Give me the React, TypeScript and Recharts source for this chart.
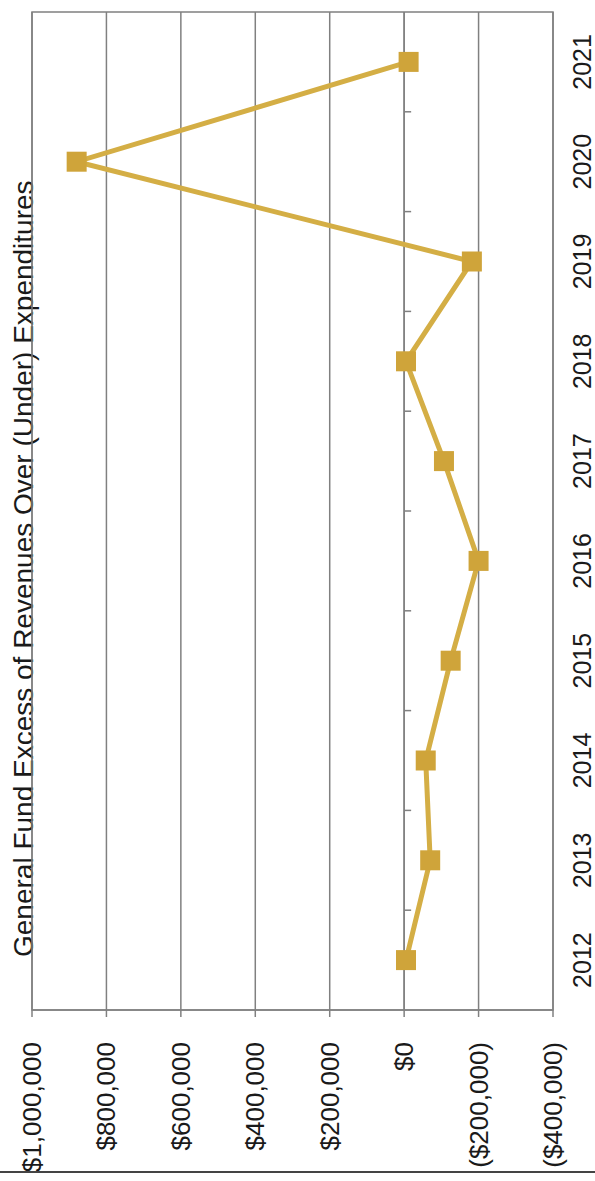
import {
  LineChart, Line, XAxis, YAxis, CartesianGrid, ReferenceArea, ReferenceLine,
} from 'recharts'

const years = ['2012', '2013', '2014', '2015', '2016', '2017', '2018', '2019', '2020', '2021']
const excess = [-5000, -70000, -58000, -125000, -200000, -107000, -5000, -182000, 880000, -12000]
const valueTicks = [-400000, -200000, 0, 200000, 400000, 600000, 800000, 1000000]
const title = 'General Fund Excess of Revenues Over (Under) Expenditures'

const data = years.map((year, i) => ({ year, value: excess[i] }))

const FONT = '"Liberation Sans", Arial, sans-serif'
const GRID = '#808080'
const GOLD = '#D4AE45'

function money(v: number) {
  const s = '$' + Math.abs(v).toLocaleString('en-US')
  return v < 0 ? `(${s})` : s
}

// whole chart is turned a quarter turn, so every label is drawn rotated
function ValueTick({ x, y, payload }: any) {
  return (
    <text
      transform={`translate(${x + 9},${y + 23}) rotate(-90)`}
      textAnchor="end"
      fontSize={26}
      fontFamily={FONT}
      fill="#1a1a1a"
    >
      {money(payload.value)}
    </text>
  )
}

function YearTick({ x, y, payload }: any) {
  return (
    <text
      transform={`translate(${x + 38},${y}) rotate(-90)`}
      textAnchor="middle"
      fontSize={25}
      fontFamily={FONT}
      fill="#1a1a1a"
    >
      {payload.value}
    </text>
  )
}

// category axis sits on $0, with small marks between the years
function ZeroAxis({ x1, y1, x2, y2 }: any) {
  const top = Math.min(y1, y2)
  const step = (Math.max(y1, y2) - top) / years.length
  return (
    <g>
      <line x1={x1} y1={y1} x2={x2} y2={y2} stroke={GRID} strokeWidth={1.5} />
      {years.slice(1).map((_, i) => (
        <line key={i} x1={x1} x2={x1 + 7} y1={top + (i + 1) * step} y2={top + (i + 1) * step}
          stroke={GRID} strokeWidth={1.5} />
      ))}
    </g>
  )
}

function SquareDot({ cx, cy }: any) {
  return <rect x={cx - 10} y={cy - 10} width={20} height={20} fill="#CFA43A" />
}

export default function App() {
  return (
    <div style={{ position: 'absolute', left: 0, top: 0, width: 595, height: 1181, background: '#fff' }}>
      <LineChart
        layout="vertical"
        width={595}
        height={1181}
        data={data}
        margin={{ top: 12, right: 0, bottom: 0, left: 32 }}
      >
        <CartesianGrid horizontal={false} stroke={GRID} strokeWidth={1.5} />
        <ReferenceArea x1={-400000} x2={1000000} fill="none" stroke={GRID} strokeWidth={1.5} />
        <XAxis
          type="number"
          reversed
          domain={[-400000, 1000000]}
          ticks={valueTicks}
          interval={0}
          height={171}
          tickSize={7}
          axisLine={{ stroke: GRID, strokeWidth: 1.5 }}
          tickLine={{ stroke: GRID, strokeWidth: 1.5 }}
          tick={<ValueTick />}
        />
        <YAxis
          type="category"
          dataKey="year"
          scale="band"
          orientation="right"
          reversed
          width={42}
          tickSize={0}
          tickMargin={0}
          axisLine={false}
          tickLine={false}
          interval={0}
          tick={<YearTick />}
        />
        <ReferenceLine x={0} shape={<ZeroAxis />} />
        <Line
          dataKey="value"
          stroke={GOLD}
          strokeWidth={5}
          dot={<SquareDot />}
          activeDot={false}
          isAnimationActive={false}
        />
        <text
          transform="translate(33,957) rotate(-90)"
          fontSize={28}
          fontFamily={FONT}
          fill="#1a1a1a"
        >
          {title}
        </text>
      </LineChart>
      <div style={{ position: 'absolute', left: 0, top: 1171, width: 595, height: 2, background: '#444' }} />
    </div>
  )
}
